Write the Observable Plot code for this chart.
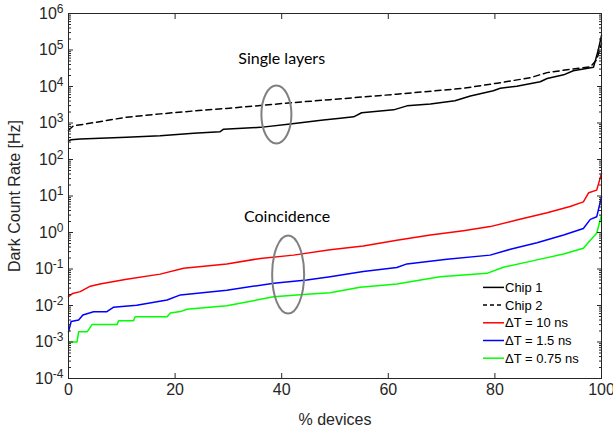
<!DOCTYPE html>
<html><head><meta charset="utf-8">
<script src="https://cdn.jsdelivr.net/npm/d3@7"></script>
<script src="https://cdn.jsdelivr.net/npm/@observablehq/plot@0.6"></script>
<style>body{margin:0;background:#fff} svg{display:block}</style>
</head><body><div id="chart"></div>
<script>
// ---- data (percent of devices, dark count rate in Hz) ----
const chip1Pct = [0, 0.5, 2.2, 10.9, 17.2, 23.5, 28.4, 29.1, 36, 41.6, 47.8, 51, 53.5, 55, 61, 63.5, 67.9, 72.5, 75.4, 79.7, 81, 84.1, 88.5, 89.8, 92.9, 94.7, 98.5, 99.4, 100];
const chip1Hz  = [324, 347, 363, 407, 447, 525, 575, 676, 759, 933, 1202, 1350, 1479, 1905, 2291, 2951, 3311, 4074, 5495, 7674, 8913, 10230, 13490, 16600, 20890, 26920, 33880, 100000, 251000];

const chip2Pct = [0, 0.9, 4.7, 10.9, 17.2, 23.5, 29.7, 36, 42.2, 49.1, 61.6, 74.1, 80.4, 86.6, 89.8, 94.1, 97.9, 99.1, 100];
const chip2Hz  = [631, 832, 1023, 1445, 1778, 2138, 2512, 3020, 3631, 4365, 6166, 8913, 12300, 17380, 23990, 29510, 34670, 53700, 147900];

const dt10Pct = [0, 0.8, 2.2, 4.1, 5.9, 10.9, 17.2, 21.6, 29.7, 36, 42.2, 49.1, 55.3, 61.6, 67.9, 74.1, 79.1, 84.1, 89.8, 94.1, 96.6, 97.6, 99.1, 100];
const dt10Hz  = [0.0174, 0.0214, 0.024, 0.0339, 0.0389, 0.0525, 0.0724, 0.105, 0.138, 0.195, 0.24, 0.339, 0.427, 0.617, 0.851, 1.12, 1.45, 2.19, 3.47, 5.13, 6.92, 12.3, 14.5, 41.7];

const dt15Pct = [0, 0.5, 1.9, 2.7, 4.7, 7.2, 8.4, 12.8, 18.5, 21, 29.7, 38.5, 44.7, 49.1, 55.3, 61.6, 63.5, 71, 79.1, 82.9, 87.9, 92.9, 96.6, 97.9, 99.1, 100];
const dt15Hz  = [0.0019, 0.00363, 0.00398, 0.0055, 0.00676, 0.00676, 0.00891, 0.0102, 0.0141, 0.0195, 0.0263, 0.0407, 0.0501, 0.0617, 0.0851, 0.11, 0.138, 0.186, 0.24, 0.347, 0.525, 0.851, 1.29, 2.29, 2.69, 9.55];

const dt075Pct = [0, 1.6, 1.9, 3.5, 4.4, 9.1, 9.4, 12.2, 12.5, 18.5, 19.1, 21, 22.2, 29.7, 38.5, 44.7, 49.1, 54.7, 61.6, 69.7, 78.5, 81.6, 87.9, 92.9, 96.6, 97.9, 99.1, 100];
const dt075Hz  = [0.001, 0.001, 0.0019, 0.0019, 0.003, 0.003, 0.0038, 0.0038, 0.0049, 0.0049, 0.0062, 0.0068, 0.0079, 0.0098, 0.0174, 0.0204, 0.0224, 0.0316, 0.0389, 0.0617, 0.0759, 0.112, 0.178, 0.257, 0.372, 0.617, 0.955, 3.02];

const seriesNames = ["Chip 1", "Chip 2", "ΔT = 10 ns", "ΔT = 1.5 ns", "ΔT = 0.75 ns"];
const seriesPct = [chip1Pct, chip2Pct, dt10Pct, dt15Pct, dt075Pct];
const seriesHz = [chip1Hz, chip2Hz, dt10Hz, dt15Hz, dt075Hz];

const xTicks = [0, 20, 40, 60, 80, 100];
const yExponents = [-4, -3, -2, -1, 0, 1, 2, 3, 4, 5, 6];

const annotationText = ["Single layers", "Coincidence"];
const annotationPct = [40, 41];
const annotationHz = [56000, 2.7];
const ellipsePct = [39.1, 41.3];
const ellipseHz = [1660, 0.0686];

// ---- styles ----
const seriesColors = ["#000000", "#000000", "#ff0000", "#0000ff", "#00ff00"];
const seriesDash = [null, "6,4", null, null, null];
const ellipseRadii = [[15, 29], [16, 39]];
const W = 613, H = 433, mL = 68, mR = 12, mT = 13, mB = 55;
const axisColor = "#262626";
const mainFont = "Liberation Sans";

const majorY = yExponents.map(e => Math.pow(10, e));
const minorY = [];
for (const e of yExponents.slice(0, -1)) for (let m = 2; m <= 9; m++) minorY.push(m * Math.pow(10, e));

const lineMarks = seriesNames.map((name, i) =>
  Plot.line(seriesPct[i].map((p, j) => ({pct: p, hz: seriesHz[i][j]})), {
    x: "pct", y: "hz", stroke: seriesColors[i], strokeWidth: 1.5,
    strokeDasharray: seriesDash[i] || undefined
  })
);

const annRows = annotationText.map((t, i) => ({t, pct: annotationPct[i], hz: annotationHz[i]}));

const plot = Plot.plot({
  width: W, height: H, marginLeft: mL, marginRight: mR, marginTop: mT, marginBottom: mB,
  style: {fontFamily: mainFont, fontSize: "16px", color: axisColor, background: "#fff", overflow: "visible"},
  x: {domain: [0, 100]},
  y: {type: "log", domain: [1e-4, 1e6]},
  marks: [
    ...lineMarks,
    Plot.text(annRows, {x: "pct", y: "hz", text: "t", fontSize: 16, fontFamily: "Lato", fill: "#000"}),
    Plot.axisX({ticks: xTicks, tickSize: 0, tickPadding: 5, fontSize: 16, fontFamily: mainFont, label: "% devices", labelAnchor: "center", labelOffset: 46, labelArrow: "none"}),
    Plot.axisX({ticks: xTicks, anchor: "bottom", tickSize: -5, tickFormat: () => "", label: null, stroke: axisColor}),
    Plot.axisX({ticks: xTicks, anchor: "top", tickSize: -5, tickFormat: () => "", label: null, stroke: axisColor}),
    Plot.axisY({ticks: majorY, tickSize: 0, tickPadding: 5, fontSize: 16, fontFamily: mainFont, tickFormat: d => "10^" + Math.round(Math.log10(d)),
      label: "Dark Count Rate [Hz]", labelAnchor: "center", labelOffset: 60, labelArrow: "none"}),
    Plot.axisY({ticks: majorY, anchor: "left", tickSize: -5, tickFormat: () => "", label: null, stroke: axisColor}),
    Plot.axisY({ticks: majorY, anchor: "right", tickSize: -5, tickFormat: () => "", label: null, stroke: axisColor}),
    Plot.axisY({ticks: minorY, anchor: "left", tickSize: -3, tickFormat: () => "", label: null, stroke: axisColor}),
    Plot.axisY({ticks: minorY, anchor: "right", tickSize: -3, tickFormat: () => "", label: null, stroke: axisColor}),
    Plot.frame({stroke: axisColor})
  ]
});

document.getElementById("chart").appendChild(plot);

const svg = d3.select(plot);
// superscript exponents on y tick labels
svg.selectAll("text").each(function() {
  const el = d3.select(this);
  const s = el.text();
  const m = /^10\^(-?\d+)$/.exec(s);
  if (m) {
    el.text("10");
    el.append("tspan").attr("dy", "-0.5em").attr("font-size", "12px").text(m[1]);
  }
});

const xs = plot.scale("x"), ys = plot.scale("y");
// ellipses around curve groups
ellipsePct.forEach((p, i) => {
  svg.append("ellipse")
    .attr("cx", xs.apply(p)).attr("cy", ys.apply(ellipseHz[i]))
    .attr("rx", ellipseRadii[i][0]).attr("ry", ellipseRadii[i][1])
    .attr("fill", "none").attr("stroke", "#808080").attr("stroke-width", 2);
});

// legend (MATLAB style, no box)
const right = W - mR, bottom = H - mB;
const lg = svg.append("g").attr("font-family", mainFont).attr("font-size", 13).attr("text-anchor", "start");
seriesNames.forEach((name, i) => {
  const y = bottom - 90.6 + i * 17.7;
  lg.append("line").attr("x1", right - 118).attr("x2", right - 97).attr("y1", y).attr("y2", y)
    .attr("stroke", seriesColors[i]).attr("stroke-width", 1.5)
    .attr("stroke-dasharray", seriesDash[i] ? "4,3" : null);
  lg.append("text").attr("x", right - 96).attr("y", y).attr("dy", "0.35em").attr("fill", "#000").text(name);
});
</script>
</body></html>
